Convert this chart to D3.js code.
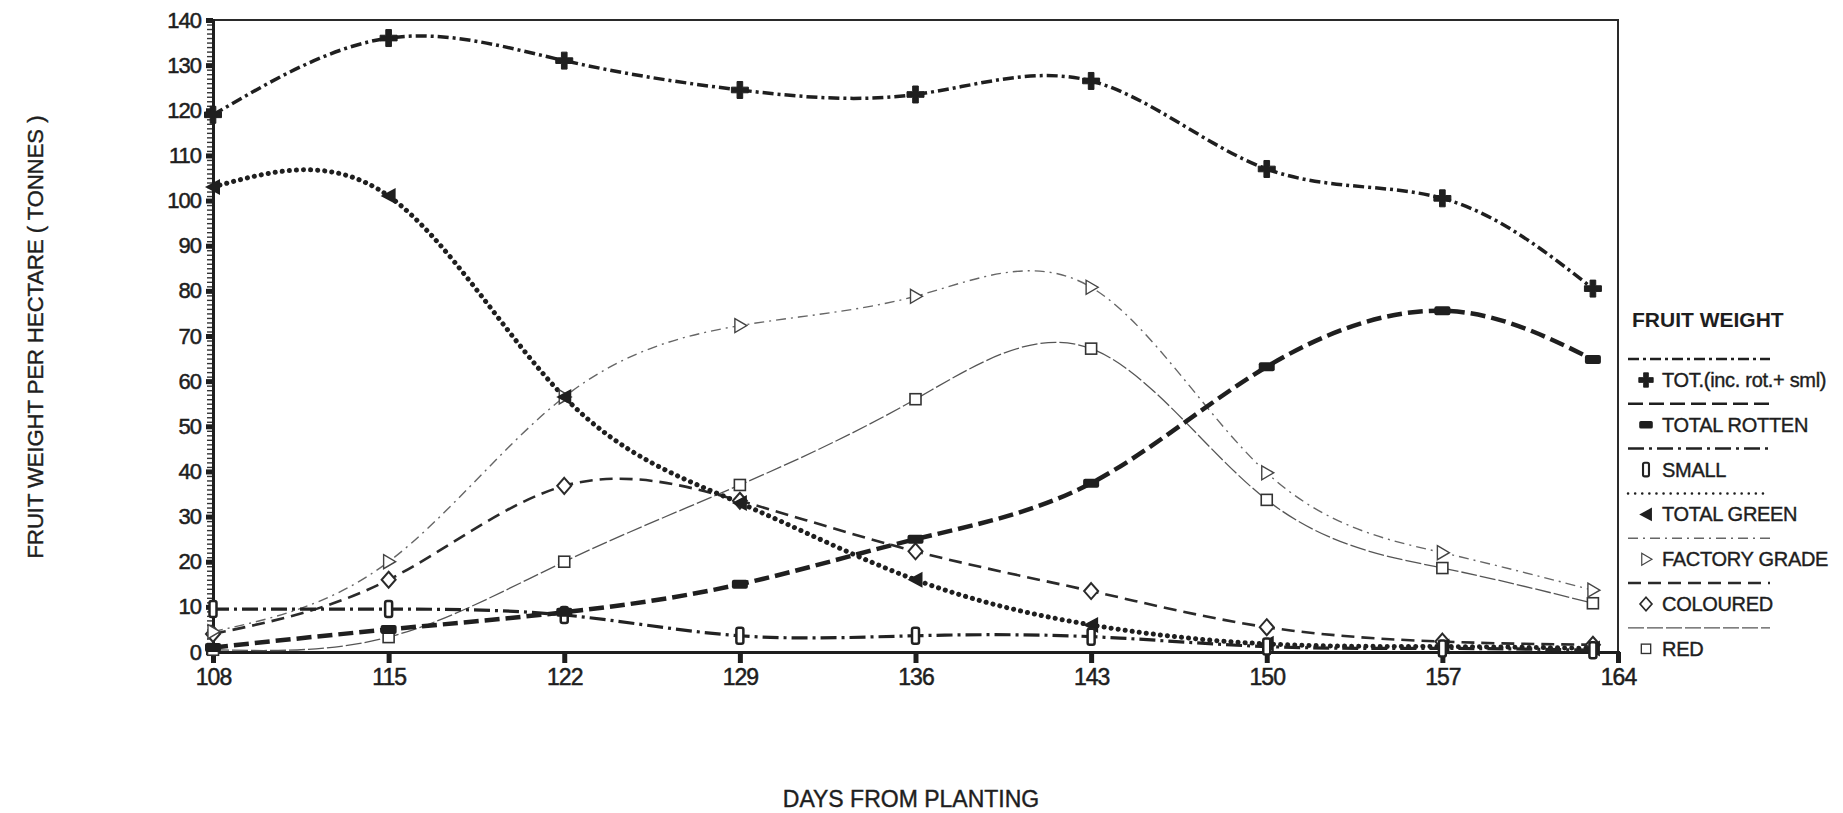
<!DOCTYPE html>
<html>
<head>
<meta charset="utf-8">
<script src="https://cdn.jsdelivr.net/npm/d3@7"></script>
<style>
  html, body { margin: 0; padding: 0; background: #fff; }
  svg { display: block; font-family: 'Liberation Sans', Arial, sans-serif; }
  .axis text { font-size: 22px; fill: #1e1e1e; stroke: #1e1e1e; stroke-width: 0.5px; letter-spacing: -1px; }
  .lbl { fill: #1e1e1e; stroke: #1e1e1e; stroke-width: 0.4px; }
</style>
</head>
<body>
<svg width="1843" height="813"></svg>
<script>
// Days from planting (harvest dates)
const days = [108, 115, 122, 129, 136, 143, 150, 157, 163];

// Fruit weight per hectare (tonnes)
const totInc = [119, 136, 131, 124.5, 123.5, 126.5, 107, 100.5, 80.5];
const totalRotten = [1, 5, 8.8, 15, 25, 37.4, 63.2, 75.6, 64.8];
const small = [9.5, 9.5, 8.2, 3.6, 3.6, 3.4, 1.2, 0.8, 0.4];
const totalGreen = [103, 101, 56.5, 33, 16, 6, 1.8, 1.2, 0.8];
const factoryGrade = [4.5, 20, 56.5, 72.3, 78.8, 80.8, 39.7, 22, 13.7];
const coloured = [4, 16, 36.8, 33.5, 22.3, 13.5, 5.5, 2.3, 1.6];
const red = [0.5, 3.3, 20, 37, 56, 67.2, 33.7, 18.6, 10.8];

const xTicks = [108, 115, 122, 129, 136, 143, 150, 157, 164];
const yTicks = [0, 10, 20, 30, 40, 50, 60, 70, 80, 90, 100, 110, 120, 130, 140];

// series look (line pattern + marker)
const series = [
  {label: 'TOT.(inc. rot.+ sml)', values: totInc, marker: 'cross',
    color: '#1f1f1f', width: 3.5, dash: '11,4,3,4', cap: 'butt'},
  {label: 'TOTAL ROTTEN', values: totalRotten, marker: 'hbar',
    color: '#1f1f1f', width: 4.5, dash: '15,6', cap: 'butt'},
  {label: 'SMALL', values: small, marker: 'vbar',
    color: '#222', width: 3.2, dash: '16,5,3,5', cap: 'butt'},
  {label: 'TOTAL GREEN', values: totalGreen, marker: 'triLeft',
    color: '#1f1f1f', width: 5, dash: '0.1,7', cap: 'round'},
  {label: 'FACTORY GRADE', values: factoryGrade, marker: 'triRight',
    color: '#666', width: 1.4, dash: '10,5,2,5', cap: 'butt'},
  {label: 'COLOURED', values: coloured, marker: 'diamond',
    color: '#2a2a2a', width: 2.6, dash: '13,7', cap: 'butt'},
  {label: 'RED', values: red, marker: 'square',
    color: '#555', width: 1.3, dash: '16,3', cap: 'butt'},
];

const svg = d3.select('svg');
const plot = {left: 213, right: 1618, top: 20, bottom: 652};

const x = d3.scaleLinear().domain([108, 164]).range([plot.left, plot.right]);
const y = d3.scaleLinear().domain([0, 140]).range([plot.bottom, plot.top]);

// Frame
svg.append('rect')
  .attr('x', plot.left).attr('y', plot.top)
  .attr('width', plot.right - plot.left).attr('height', plot.bottom - plot.top)
  .attr('fill', 'none').attr('stroke', '#2a2a2a').attr('stroke-width', 2);

// Y minor ticks every tonne
svg.append('g')
  .attr('transform', `translate(${plot.left},0)`)
  .call(d3.axisLeft(y).tickValues(d3.range(0, 141, 1)).tickSize(6).tickFormat(''))
  .call((g) => g.select('.domain').remove())
  .call((g) => g.selectAll('line').attr('stroke', '#333').attr('stroke-width', 1.4));

// Y major ticks + labels
svg.append('g')
  .attr('class', 'axis')
  .attr('transform', `translate(${plot.left},0)`)
  .call(d3.axisLeft(y).tickValues(yTicks).tickSize(7).tickPadding(5))
  .call((g) => g.select('.domain').attr('stroke', '#1e1e1e').attr('stroke-width', 3))
  .call((g) => g.selectAll('line').attr('stroke', '#1e1e1e').attr('stroke-width', 5));

// X axis
svg.append('g')
  .attr('class', 'axis')
  .attr('transform', `translate(0,${plot.bottom})`)
  .call(d3.axisBottom(x).tickValues(xTicks).tickSize(11).tickPadding(6))
  .call((g) => g.select('.domain').attr('stroke', '#1e1e1e').attr('stroke-width', 3))
  .call((g) => g.selectAll('line').attr('stroke', '#1e1e1e').attr('stroke-width', 5))
  .call((g) => g.selectAll('text').style('font-size', '23px'));

// Axis titles
svg.append('text')
  .attr('class', 'lbl')
  .attr('x', 911).attr('y', 807)
  .attr('text-anchor', 'middle')
  .style('font-size', '23px')
  .text('DAYS FROM PLANTING');

svg.append('text')
  .attr('class', 'lbl')
  .attr('transform', 'translate(43,337) rotate(-90)')
  .attr('text-anchor', 'middle')
  .style('font-size', '22px')
  .text('FRUIT WEIGHT PER HECTARE ( TONNES )');

// Marker drawing
function drawMarker(g, type, color) {
  switch (type) {
    case 'cross':
      g.append('path')
        .attr('d', d3.symbol(d3.symbolCross, 160)())
        .attr('fill', color).attr('stroke', color).attr('stroke-width', 1);
      break;
    case 'hbar':
      g.append('rect').attr('x', -8).attr('y', -4.5).attr('width', 16).attr('height', 9)
        .attr('rx', 2).attr('fill', color);
      break;
    case 'vbar':
      g.append('rect').attr('x', -3.5).attr('y', -8).attr('width', 7).attr('height', 16)
        .attr('rx', 2).attr('fill', '#fff').attr('stroke', color).attr('stroke-width', 2.5);
      break;
    case 'triLeft':
      g.append('path').attr('d', 'M-8,0L7,-8L7,8Z').attr('fill', color);
      break;
    case 'triRight':
      g.append('path').attr('d', 'M-5,-7L7,0L-5,7Z')
        .attr('fill', '#fff').attr('stroke', '#444').attr('stroke-width', 1.4);
      break;
    case 'diamond':
      g.append('path').attr('d', 'M0,-8L7,0L0,8L-7,0Z')
        .attr('fill', '#fff').attr('stroke', color).attr('stroke-width', 2);
      break;
    case 'square':
      g.append('rect').attr('x', -5.5).attr('y', -5.5).attr('width', 11).attr('height', 11)
        .attr('fill', '#fff').attr('stroke', '#333').attr('stroke-width', 1.6);
      break;
  }
}

const line = d3.line()
  .x((d) => x(d[0]))
  .y((d) => y(d[1]))
  .curve(d3.curveNatural);

const lines = svg.append('g');
const markers = svg.append('g');

// draw back to front so the heavy series sit on top
series.slice().reverse().forEach((s) => {
  const pts = days.map((d, i) => [d, s.values[i]]);
  lines.append('path')
    .datum(pts)
    .attr('d', line)
    .attr('fill', 'none')
    .attr('stroke', s.color)
    .attr('stroke-width', s.width)
    .attr('stroke-dasharray', s.dash)
    .attr('stroke-linecap', s.cap);

  markers.selectAll(null)
    .data(pts)
    .enter()
    .append('g')
    .attr('transform', (d) => `translate(${x(d[0])},${y(d[1])})`)
    .each(function() { drawMarker(d3.select(this), s.marker, s.color); });
});

// Legend
const legend = svg.append('g');
legend.append('text')
  .attr('x', 1632).attr('y', 327)
  .style('font-size', '21px').style('font-weight', 'bold').attr('fill', '#1e1e1e')
  .text('FRUIT WEIGHT');

const rowGap = 44.8;
series.forEach((s, i) => {
  const ly = 359 + i * rowGap;
  legend.append('line')
    .attr('x1', 1628).attr('x2', 1770)
    .attr('y1', ly).attr('y2', ly)
    .attr('stroke', s.color)
    .attr('stroke-width', Math.min(s.width, 2.5))
    .attr('stroke-dasharray', s.dash)
    .attr('stroke-linecap', s.cap);
  const m = legend.append('g')
    .attr('transform', `translate(1646,${ly + 21}) scale(0.85)`);
  drawMarker(m, s.marker, s.color);
  legend.append('text')
    .attr('class', 'lbl')
    .attr('x', 1662).attr('y', ly + 28)
    .style('font-size', '20px')
    .attr('letter-spacing', '-0.3px')
    .text(s.label);
});
</script>
</body>
</html>
